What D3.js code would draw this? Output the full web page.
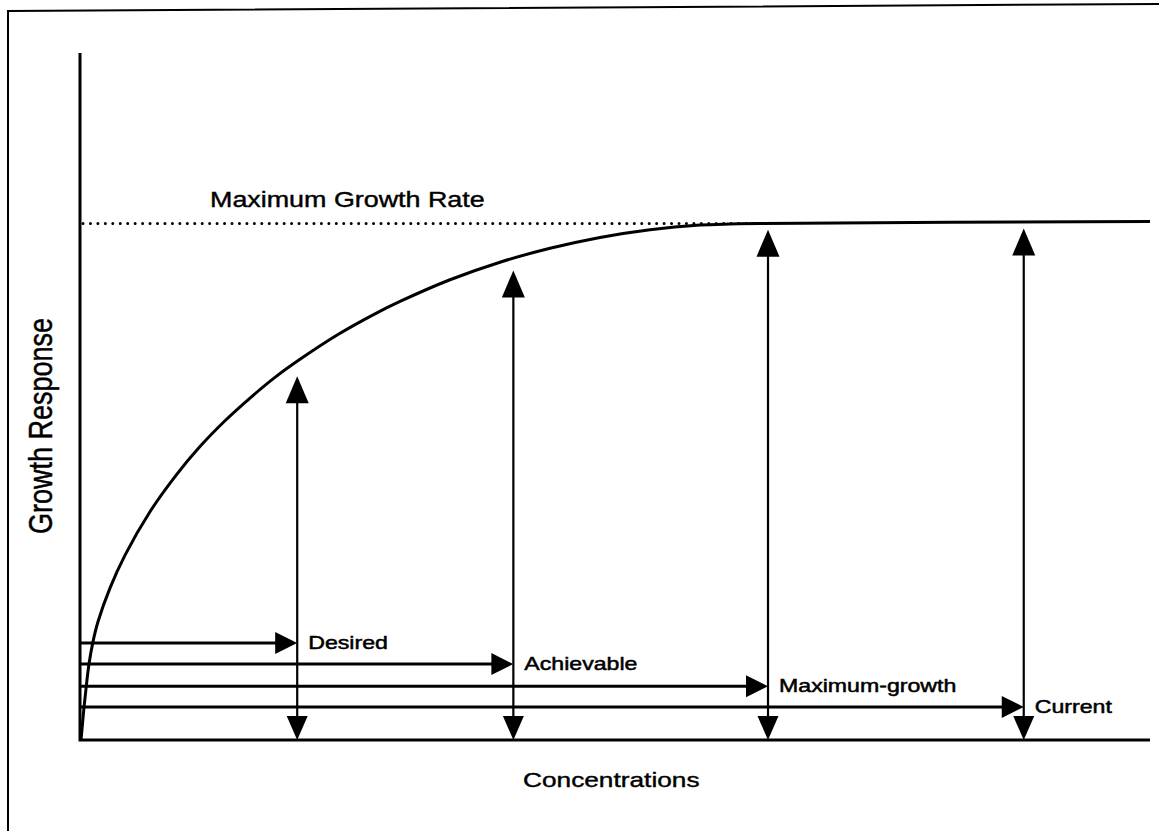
<!DOCTYPE html>
<html>
<head>
<meta charset="utf-8">
<script src="https://cdn.jsdelivr.net/npm/d3@7"></script>
<style>
  html, body { margin: 0; padding: 0; background: #fff; }
  svg { display: block; }
</style>
</head>
<body>
<div id="chart"></div>
<script>
// Response curve (concentration 0-100, response 0-100 = max growth)
const curveConc = [0.09, 0.23, 0.37, 0.56, 0.84, 1.21, 1.68, 2.8, 4.21, 6.54, 8.88, 11.21, 13.55, 15.89, 18.22, 20.56, 24.11, 27.57, 29.91, 34.58, 39.25, 43.93, 48.6, 53.27, 57.94, 60.75, 63.55, 100];
const curveResp = [0, 3.1, 6.2, 9.9, 14.7, 19.0, 22.9, 29.4, 35.8, 44.2, 51.0, 56.8, 61.8, 66.2, 70.2, 73.7, 78.5, 82.5, 84.9, 89.1, 92.5, 95.2, 97.3, 98.8, 99.7, 99.9, 100, 100.4];

// Concentration targets
const targets = ["Desired", "Achievable", "Maximum-growth", "Current"];
const targetConc = [20.3, 40.5, 64.3, 88.2];
const targetLevel = [18.8, 14.7, 10.4, 6.4];   // height of each horizontal arrow
const targetTop = [70.4, 90.9, 98.8, 99.0];     // tip of each vertical arrow

const maxResponse = 100;
const titleMax = "Maximum Growth Rate";
const xTitle = "Concentrations";
const yTitle = "Growth Response";

const width = 1159;
const height = 831;
const stretch = 1.25; // the scan is wider than it is tall

const x = d3.scaleLinear().domain([0, 100]).range([80, 1150]);
const y = d3.scaleLinear().domain([0, 133]).range([740, 53]);

const font = "'Liberation Sans', Arial, Helvetica, sans-serif";

const svg = d3
  .select("#chart")
  .append("svg")
  .attr("width", width)
  .attr("height", height)
  .attr("viewBox", [0, 0, width, height]);

svg.append("rect").attr("width", width).attr("height", height).attr("fill", "#fff");

// frame of the scanned figure
svg
  .append("path")
  .attr("d", "M8,840 L8,11 L1159,4")
  .attr("fill", "none")
  .attr("stroke", "#000")
  .attr("stroke-width", 2);

// axes (plain lines, no ticks)
svg
  .append("path")
  .attr("d", `M${x(0)},${y(133)} L${x(0)},${y(0)} L${x(100)},${y(0)}`)
  .attr("fill", "none")
  .attr("stroke", "#000")
  .attr("stroke-width", 3);

// dotted maximum line
svg
  .append("line")
  .attr("x1", x(0) + 3)
  .attr("x2", x(63.2))
  .attr("y1", y(maxResponse))
  .attr("y2", y(maxResponse))
  .attr("stroke", "#000")
  .attr("stroke-width", 3)
  .attr("stroke-linecap", "round")
  .attr("stroke-dasharray", "0 7.45");

// growth curve
const pts = d3.zip(curveConc, curveResp);
const line = d3
  .line()
  .x((d) => x(d[0]))
  .y((d) => y(d[1]))
  .curve(d3.curveCatmullRom.alpha(0.5));

svg
  .append("path")
  .datum(pts)
  .attr("d", line)
  .attr("fill", "none")
  .attr("stroke", "#000")
  .attr("stroke-width", 3);

// arrow heads
function head(tx, ty, dir, len, half) {
  if (dir === "right") return `M${tx},${ty} L${tx - len},${ty - half} L${tx - len},${ty + half} Z`;
  if (dir === "down") return `M${tx},${ty} L${tx - half},${ty - len} L${tx + half},${ty - len} Z`;
  return `M${tx},${ty} L${tx - half},${ty + len} L${tx + half},${ty + len} Z`;
}

const g = svg.append("g");
targets.forEach((name, i) => {
  const cx = x(targetConc[i]);
  const ly = y(targetLevel[i]);
  const top = y(targetTop[i]);
  const bottom = y(0);

  // horizontal arrow from the axis to the target
  g.append("line")
    .attr("x1", x(0))
    .attr("x2", cx - 10)
    .attr("y1", ly)
    .attr("y2", ly)
    .attr("stroke", "#000")
    .attr("stroke-width", 3);
  g.append("path").attr("d", head(cx, ly, "right", 22, 11)).attr("fill", "#000");

  // vertical double arrow
  g.append("line")
    .attr("x1", cx)
    .attr("x2", cx)
    .attr("y1", top + 10)
    .attr("y2", bottom - 10)
    .attr("stroke", "#000")
    .attr("stroke-width", 2.2);
  g.append("path").attr("d", head(cx, top, "up", 27, 11.5)).attr("fill", "#000");
  g.append("path").attr("d", head(cx, bottom, "down", 24, 10.5)).attr("fill", "#000");

  g.append("text")
    .attr("transform", `translate(${cx + 11},${ly + 6}) scale(${stretch},1)`)
    .attr("font-family", font)
    .attr("font-size", 18.5)
    .attr("stroke", "#000")
    .attr("stroke-width", 0.5)
    .text(name);
});

// titles
svg
  .append("text")
  .attr("transform", `translate(210,207) scale(${stretch},1)`)
  .attr("font-family", font)
  .attr("font-size", 21.5)
  .attr("stroke", "#000")
  .attr("stroke-width", 0.4)
  .text(titleMax);

svg
  .append("text")
  .attr("transform", `translate(523,787) scale(${stretch},1)`)
  .attr("font-family", font)
  .attr("font-size", 21)
  .attr("stroke", "#000")
  .attr("stroke-width", 0.4)
  .text(xTitle);

svg
  .append("text")
  .attr("transform", `translate(52,426) scale(${stretch},1) rotate(-90)`)
  .attr("font-family", font)
  .attr("font-size", 27)
  .attr("text-anchor", "middle")
  .attr("stroke", "#000")
  .attr("stroke-width", 0.4)
  .text(yTitle);
</script>
</body>
</html>
